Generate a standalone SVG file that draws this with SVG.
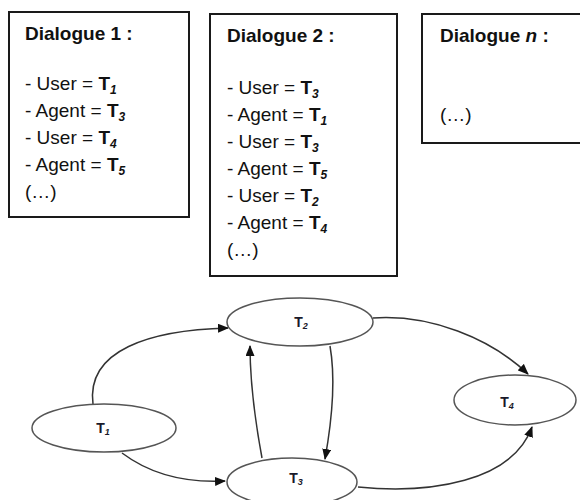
<svg xmlns="http://www.w3.org/2000/svg" width="580" height="500" viewBox="0 0 580 500">
<style>
  .box { fill: #fff; stroke: #1a1a1a; stroke-width: 2; }
  .t { font-family: "Liberation Sans", Arial, sans-serif; font-size: 19px; fill: #111; }
  .title { font-weight: bold; }
  .b { font-weight: bold; }
  .sub { font-weight: bold; font-style: italic; font-size: 12px; }
  .node { fill: #fff; stroke: #555; stroke-width: 1.5; }
  .lbl { font-family: "Liberation Sans", Arial, sans-serif; font-size: 14px; font-weight: bold; fill: #1a1a2a; text-anchor: middle; }
  .lsub { font-size: 9px; font-style: italic; }
  .edge { fill: none; stroke: #333; stroke-width: 1.5; marker-end: url(#arr); }
</style>
<defs>
  <marker id="arr" markerWidth="11" markerHeight="9" refX="10" refY="4.5" orient="auto" markerUnits="userSpaceOnUse">
    <path d="M0,0 L11,4.5 L0,9 z" fill="#111"/>
  </marker>
</defs>
<rect width="580" height="500" fill="#fff"/>

<g id="dialogue1">
  <rect class="box" x="9" y="12" width="180" height="205"/>
  <text class="t title" x="25" y="40">Dialogue 1 :</text>
  <text class="t" x="25" y="90">- User = <tspan class="b">T</tspan><tspan class="sub" dy="4">1</tspan></text>
  <text class="t" x="25" y="117">- Agent = <tspan class="b">T</tspan><tspan class="sub" dy="4">3</tspan></text>
  <text class="t" x="25" y="144">- User = <tspan class="b">T</tspan><tspan class="sub" dy="4">4</tspan></text>
  <text class="t" x="25" y="171">- Agent = <tspan class="b">T</tspan><tspan class="sub" dy="4">5</tspan></text>
  <text class="t" x="25" y="198">(…)</text>
</g>

<g id="dialogue2">
  <rect class="box" x="210" y="14" width="187" height="262"/>
  <text class="t title" x="227" y="42">Dialogue 2 :</text>
  <text class="t" x="227" y="94">- User = <tspan class="b">T</tspan><tspan class="sub" dy="4">3</tspan></text>
  <text class="t" x="227" y="121">- Agent = <tspan class="b">T</tspan><tspan class="sub" dy="4">1</tspan></text>
  <text class="t" x="227" y="148">- User = <tspan class="b">T</tspan><tspan class="sub" dy="4">3</tspan></text>
  <text class="t" x="227" y="175">- Agent = <tspan class="b">T</tspan><tspan class="sub" dy="4">5</tspan></text>
  <text class="t" x="227" y="202">- User = <tspan class="b">T</tspan><tspan class="sub" dy="4">2</tspan></text>
  <text class="t" x="227" y="229">- Agent = <tspan class="b">T</tspan><tspan class="sub" dy="4">4</tspan></text>
  <text class="t" x="227" y="256">(…)</text>
</g>

<g id="dialoguen">
  <rect class="box" x="422" y="14" width="170" height="129"/>
  <text class="t title" x="440" y="42">Dialogue <tspan font-style="italic">n</tspan> :</text>
  <text class="t" x="440" y="121">(…)</text>
</g>

<g id="connectors">
  <path class="edge" d="M93 404 C86 350 150 330 228 328"/>
  <path class="edge" d="M122 453 C150 474 185 483 225 481"/>
  <path class="edge" d="M262 458 C255 420 250 380 250 346"/>
  <path class="edge" d="M330 346 C336 380 332 420 325 459"/>
  <path class="edge" d="M373 318 C430 314 490 338 528 374"/>
  <path class="edge" d="M358 487 C430 494 512 482 532 427"/>
</g>

<g id="T1">
  <ellipse class="node" cx="104" cy="428" rx="72" ry="24"/>
  <text class="lbl" x="103" y="433">T<tspan class="lsub" dy="2">1</tspan></text>
</g>
<g id="T2">
  <ellipse class="node" cx="300" cy="322" rx="73" ry="24"/>
  <text class="lbl" x="301" y="327">T<tspan class="lsub" dy="2">2</tspan></text>
</g>
<g id="T3">
  <ellipse class="node" cx="292" cy="482" rx="65" ry="24"/>
  <text class="lbl" x="296" y="483">T<tspan class="lsub" dy="2">3</tspan></text>
</g>
<g id="T4">
  <ellipse class="node" cx="515" cy="400" rx="61" ry="25"/>
  <text class="lbl" x="507" y="407">T<tspan class="lsub" dy="2">4</tspan></text>
</g>
</svg>
